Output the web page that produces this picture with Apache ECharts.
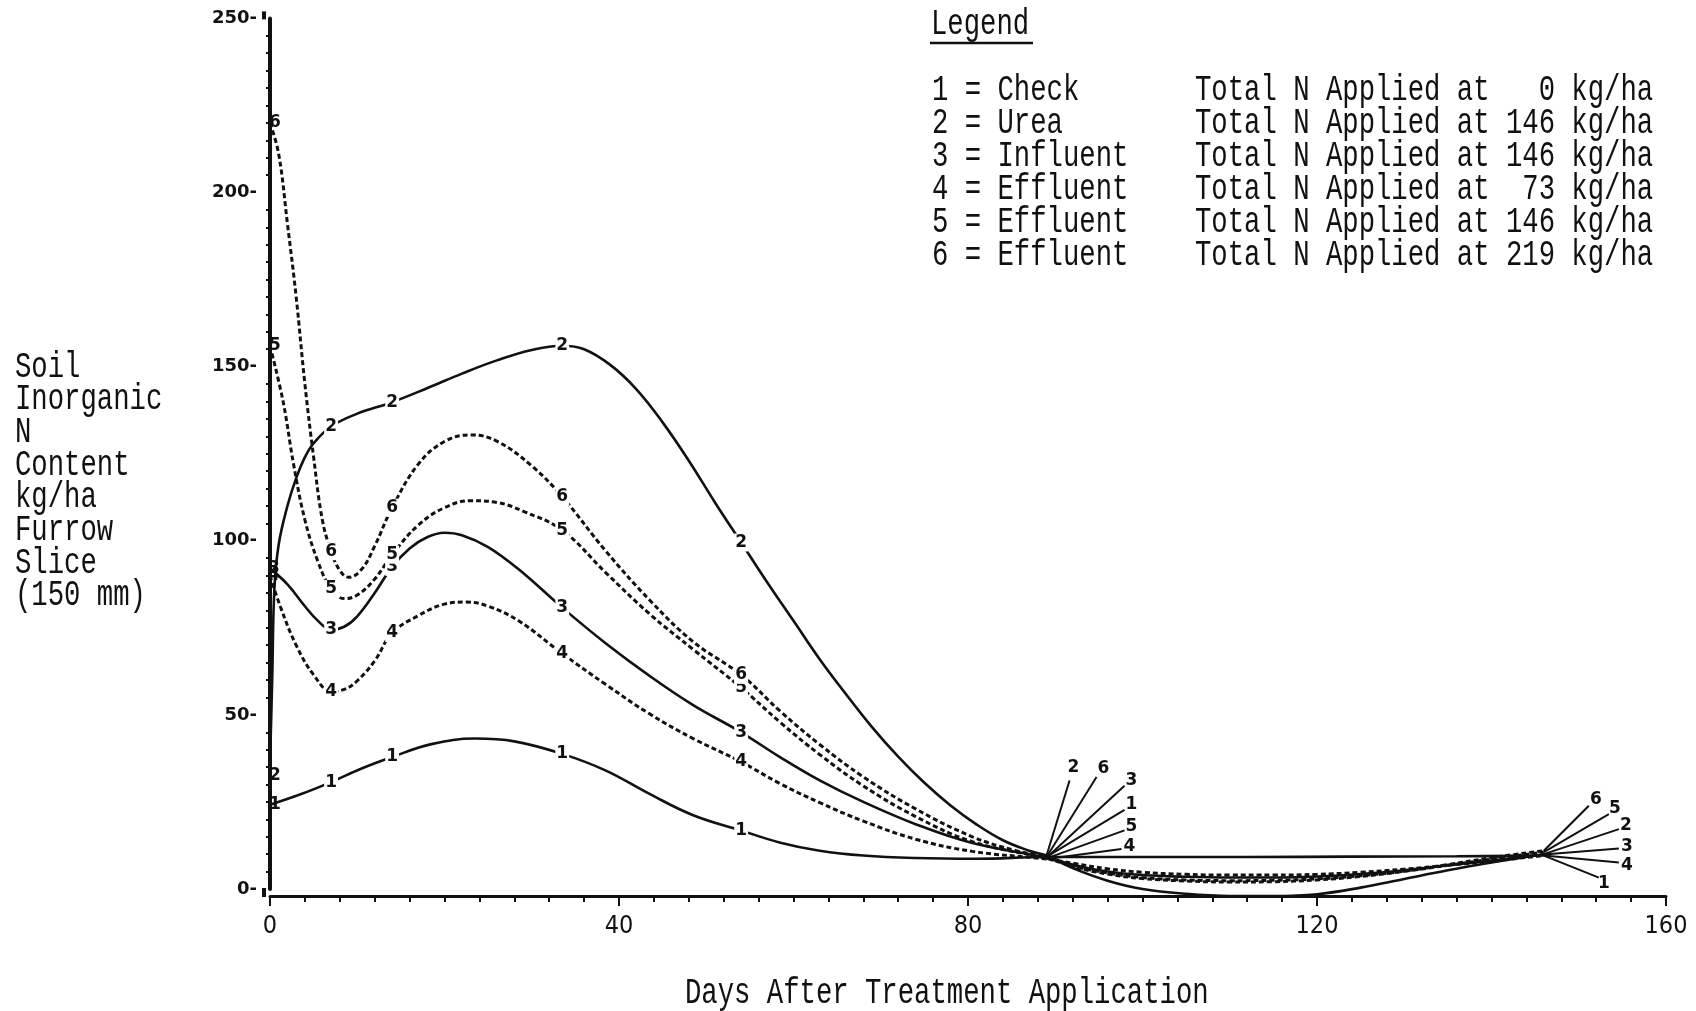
<!DOCTYPE html>
<html>
<head>
<meta charset="utf-8">
<script src="https://cdn.jsdelivr.net/npm/echarts@6/dist/echarts.min.js"></script>
<style>
  html, body { margin: 0; padding: 0; background: #ffffff; }
  #chart { width: 1696px; height: 1011px; }
</style>
</head>
<body>
<div id="chart"></div>
<script>
// Soil inorganic N content (kg/ha, furrow slice 150 mm) against days after treatment.
// Each series is a list of [day, kg/ha] readings.
const check = [[0,24.2],[3.5,27.2],[7,30.7],[10.5,34.6],[14,37.9],[18.5,41.6],[23.5,43.2],[28,42.4],[33.5,38.8],[38.5,34],[43.5,27.3],[48.5,21.2],[54,16.8],[58.5,13.3],[63,11],[68,9.6],[74,8.9],[81,8.7],[89,9.2],[100,9.2],[112,9.2],[124,9.3],[136,9.4],[146,9.6]];
const urea = [[0,36],[0.25,60],[0.5,86],[1,99],[2,110],[3,118],[4,124],[5,128],[7,132.8],[10,136.5],[14,139.8],[18,143.8],[22,148],[26,151.8],[30,154.8],[33.5,156],[36,155],[39,150.5],[42,143.5],[45,134],[48,123],[51,111],[54,99.5],[57,88],[60,77],[63,66],[66,56],[69,46.5],[72,38],[75,30.5],[78,24],[81,18.5],[84,14],[87,11],[89,9.6],[92,6],[96,2.4],[100,0],[105,-1.4],[110,-2],[115,-2],[120,-1.5],[125,0.4],[130,2.9],[135,5.4],[140,7.6],[146,10]];
const influent = [[0,92],[2,87.5],[4,81.2],[5.5,77],[7,74.5],[8.5,75.3],[10,78.3],[12,85],[14,92.5],[16,97.8],[18,101],[20,102.3],[22,101.6],[25,98.2],[28.5,91.8],[33.5,80.8],[38.5,70.5],[43.5,61.2],[48.5,52.8],[54,45],[58.5,37.8],[63,31.2],[68,25],[74,18.6],[80.5,13.2],[89,9],[92,7],[96,5],[100,4],[105,3.5],[110,3.3],[115,3.3],[120,3.6],[125,4.3],[130,5.4],[135,6.8],[140,8.2],[146,9.9]];
const effluent73 = [[0,90],[1.2,81],[3,70],[5,61.5],[7,56.8],[8.5,57.3],[10,59.8],[12,65.5],[14,73.5],[17,78.5],[20,81.8],[22.5,82.4],[25,81.2],[28.5,77],[33.5,67.6],[38.5,58.7],[43.5,50.3],[48.5,43.2],[54,36.5],[58.5,30.2],[63,24.8],[68,19.5],[74,14.3],[80.5,10.8],[89,8.6],[92,7.4],[96,5.8],[100,4.8],[105,4.2],[110,4],[115,4],[120,4.2],[125,4.8],[130,5.7],[135,6.8],[140,8],[146,9.6]];
const effluent146 = [[0,156],[1.5,140],[2.7,122],[4,106],[5.5,94],[7,86.2],[8.5,83.4],[10,84.4],[12,89],[14,96],[17,104.5],[20,109.5],[23,111.5],[26,111],[29,108.5],[33.5,103],[38.5,90.8],[43.5,79],[48.5,68.8],[54,57.8],[58.5,47.8],[63,38.6],[68,29.6],[74,20.8],[80.5,13.6],[89,8.8],[92,6.6],[96,4.6],[100,3.3],[105,2.6],[110,2.4],[115,2.5],[120,2.9],[125,3.8],[130,5.1],[135,6.8],[140,8.6],[146,10.6]];
const effluent219 = [[0,220],[1,211],[2,191],[3,170],[4,145],[5,124],[6,106],[7,97],[8,91.5],[9,89.5],[10.5,91.8],[12,98.5],[14,109.5],[17,122],[20,128.5],[23,130.4],[26,128.6],[30,121.5],[33.5,112.6],[38.5,97],[43.5,83],[48.5,71],[54,61.5],[58.5,51],[63,41.5],[68,32.2],[74,23],[80.5,15],[85.5,11],[89,9.2],[92,6.4],[96,4.3],[100,3],[105,2.3],[110,2],[115,2.1],[120,2.6],[125,3.6],[130,5.1],[135,7],[140,9],[146,11]];

// Sampling days marked with the treatment number on each curve
const labelDays = [0, 7, 14, 33.5, 54];
// Days where the curves meet and are labelled with leader lines
const fanDays = [89, 146];

const treatmentNames = ['Check', 'Urea', 'Influent', 'Effluent', 'Effluent', 'Effluent'];
const nitrogenRates = [0, 146, 146, 73, 146, 219];
const yTitleLines = ['Soil', 'Inorganic', 'N', 'Content', 'kg/ha', 'Furrow', 'Slice', '(150 mm)'];
const xTitle = 'Days After Treatment Application';

const curves = [
  { id: '1', data: check, dashed: false },
  { id: '2', data: urea, dashed: false },
  { id: '3', data: influent, dashed: false },
  { id: '4', data: effluent73, dashed: true },
  { id: '5', data: effluent146, dashed: true },
  { id: '6', data: effluent219, dashed: true }
];

// Leader line end and label centre, in pixels from the meeting point
const fanOffsets = {
  89: {
    '2': [[23, -75], [27, -88]],
    '6': [[50, -80], [57, -88]],
    '3': [[78, -72], [85, -77]],
    '1': [[78, -47], [85, -52]],
    '5': [[78, -28], [85, -32]],
    '4': [[75, -10], [83, -12]]
  },
  146: {
    '6': [[45, -45], [52, -51]],
    '5': [[65, -38], [71, -44]],
    '2': [[75, -25], [82, -29]],
    '3': [[75, -6], [83, -8]],
    '4': [[75, 7], [83, 10]],
    '1': [[55, 22], [60, 28]]
  }
};
// Nudges for the marks at the start of the curves, beside the axis
const startNudge = { '1': [5, 0], '2': [5, 12], '3': [4, 0], '4': [4, 0], '5': [5, 0], '6': [5, 0] };

const INK = '#111111';
const digitFont = { fontFamily: 'DejaVu Sans', fontWeight: 'bold', fontSize: 17 };
const typeFont = '"Liberation Mono", "DejaVu Sans Mono", monospace';
const typeSize = 37;
const typeScale = 0.737;
const X_AXIS_DROP = 7;
const Y_AXIS_SHIFT = 6;

const series = [];
curves.forEach(c => {
  series.push({
    type: 'line',
    name: c.id,
    data: c.data,
    smooth: 0.4,
    symbol: 'none',
    clip: false,
    silent: true,
    z: 2,
    lineStyle: {
      color: INK,
      width: c.dashed ? 3 : 2.6,
      type: c.dashed ? [5, 3] : 'solid',
      cap: 'butt'
    }
  });
});

// Treatment numbers written on the curves at the sampling days
curves.forEach(c => {
  series.push({
    type: 'custom',
    name: c.id + ' marks',
    coordinateSystem: 'cartesian2d',
    silent: true,
    clip: false,
    z: 4,
    encode: { x: 0, y: 1 },
    data: c.data.filter(p => labelDays.includes(p[0])),
    renderItem: (params, api) => {
      const day = api.value(0);
      const pt = api.coord([day, api.value(1)]);
      const nudge = day === 0 ? startNudge[c.id] : [0, 0];
      return {
        type: 'text',
        x: pt[0] + nudge[0],
        y: pt[1] + nudge[1],
        style: Object.assign({
          text: c.id, fill: INK, align: 'center', verticalAlign: 'middle',
          backgroundColor: day === 0 ? 'transparent' : '#ffffff', padding: [1, 1, 0, 1]
        }, digitFont)
      };
    }
  });
});

// Leader lines fanning out where the curves meet
curves.forEach(c => {
  series.push({
    type: 'custom',
    name: c.id + ' leaders',
    coordinateSystem: 'cartesian2d',
    silent: true,
    clip: false,
    z: 5,
    encode: { x: 0, y: 1 },
    data: c.data.filter(p => fanDays.includes(p[0])),
    renderItem: (params, api) => {
      const day = api.value(0);
      const pt = api.coord([day, api.value(1)]);
      const [end, lab] = fanOffsets[day][c.id];
      return {
        type: 'group',
        children: [
          { type: 'line', shape: { x1: pt[0], y1: pt[1], x2: pt[0] + end[0], y2: pt[1] + end[1] },
            style: { stroke: INK, lineWidth: 2 } },
          { type: 'text', x: pt[0] + lab[0], y: pt[1] + lab[1],
            style: Object.assign({ text: c.id, fill: INK, align: 'center', verticalAlign: 'middle' }, digitFont) }
        ]
      };
    }
  });
});

function typeText(text, x, y, align) {
  return {
    type: 'text', x: x, y: y, scaleX: typeScale, silent: true,
    style: { text: text, fill: INK, fontFamily: typeFont, fontSize: typeSize,
             align: align || 'left', verticalAlign: 'middle' }
  };
}

const graphic = [];
graphic.push(typeText('Legend', 931, 24));
graphic.push({ type: 'line', silent: true, shape: { x1: 930, y1: 43, x2: 1033, y2: 43 },
               style: { stroke: INK, lineWidth: 2.5 } });
treatmentNames.forEach((name, i) => {
  const y = 90 + i * 33.1;
  graphic.push(typeText((i + 1) + ' = ' + name, 932, y));
  graphic.push(typeText('Total N Applied at ' + String(nitrogenRates[i]).padStart(3, ' ') + ' kg/ha', 1195, y));
});
yTitleLines.forEach((line, i) => graphic.push(typeText(line, 15, 367 + i * 32.65)));
graphic.push(typeText(xTitle, 685, 993));

const option = {
  animation: false,
  backgroundColor: '#ffffff',
  grid: { left: 270, right: 30, top: 18.4, bottom: 122, containLabel: false },
  xAxis: {
    type: 'value', min: 0, max: 160, interval: 40,
    offset: X_AXIS_DROP,
    axisLine: { onZero: false, lineStyle: { color: INK, width: 3 } },
    axisTick: { show: true, length: 10, lineStyle: { color: INK, width: 2 } },
    minorTick: { show: true, splitNumber: 10, length: 6, lineStyle: { color: INK, width: 2 } },
    splitLine: { show: false },
    axisLabel: { color: INK, margin: 18, fontSize: 25,
                 fontFamily: '"Liberation Sans Narrow", "DejaVu Sans Condensed", "Roboto", sans-serif' }
  },
  yAxis: {
    type: 'value', min: 0, max: 250, interval: 50,
    offset: Y_AXIS_SHIFT,
    axisLine: { show: true, lineStyle: { color: INK, width: 4 } },
    axisTick: { show: false },
    minorTick: { show: true, splitNumber: 10, length: 4, lineStyle: { color: INK, width: 2 } },
    splitLine: { show: false },
    axisLabel: { color: INK, margin: 7, fontSize: 18, fontWeight: 'bold', fontFamily: 'DejaVu Sans',
                 formatter: v => v + '-' }
  },
  graphic: graphic,
  series: series
};

const chart = echarts.init(document.getElementById('chart'), null, { renderer: 'canvas' });
chart.setOption(option);

// Carry the vertical axis down to the dropped horizontal axis line
const axisX = chart.convertToPixel({ xAxisIndex: 0 }, 0) - Y_AXIS_SHIFT;
const baseY = chart.convertToPixel({ yAxisIndex: 0 }, 0);
const topY = chart.convertToPixel({ yAxisIndex: 0 }, 250);
graphic.push({ type: 'line', silent: true,
               shape: { x1: axisX, y1: baseY - 1, x2: axisX, y2: baseY + X_AXIS_DROP + 1 },
               style: { stroke: INK, lineWidth: 4 } });
graphic.push({ type: 'line', silent: true,
               shape: { x1: axisX, y1: topY - 7, x2: axisX, y2: topY + 1 },
               style: { stroke: INK, lineWidth: 4 } });
chart.setOption({ graphic: graphic });
</script>
</body>
</html>
